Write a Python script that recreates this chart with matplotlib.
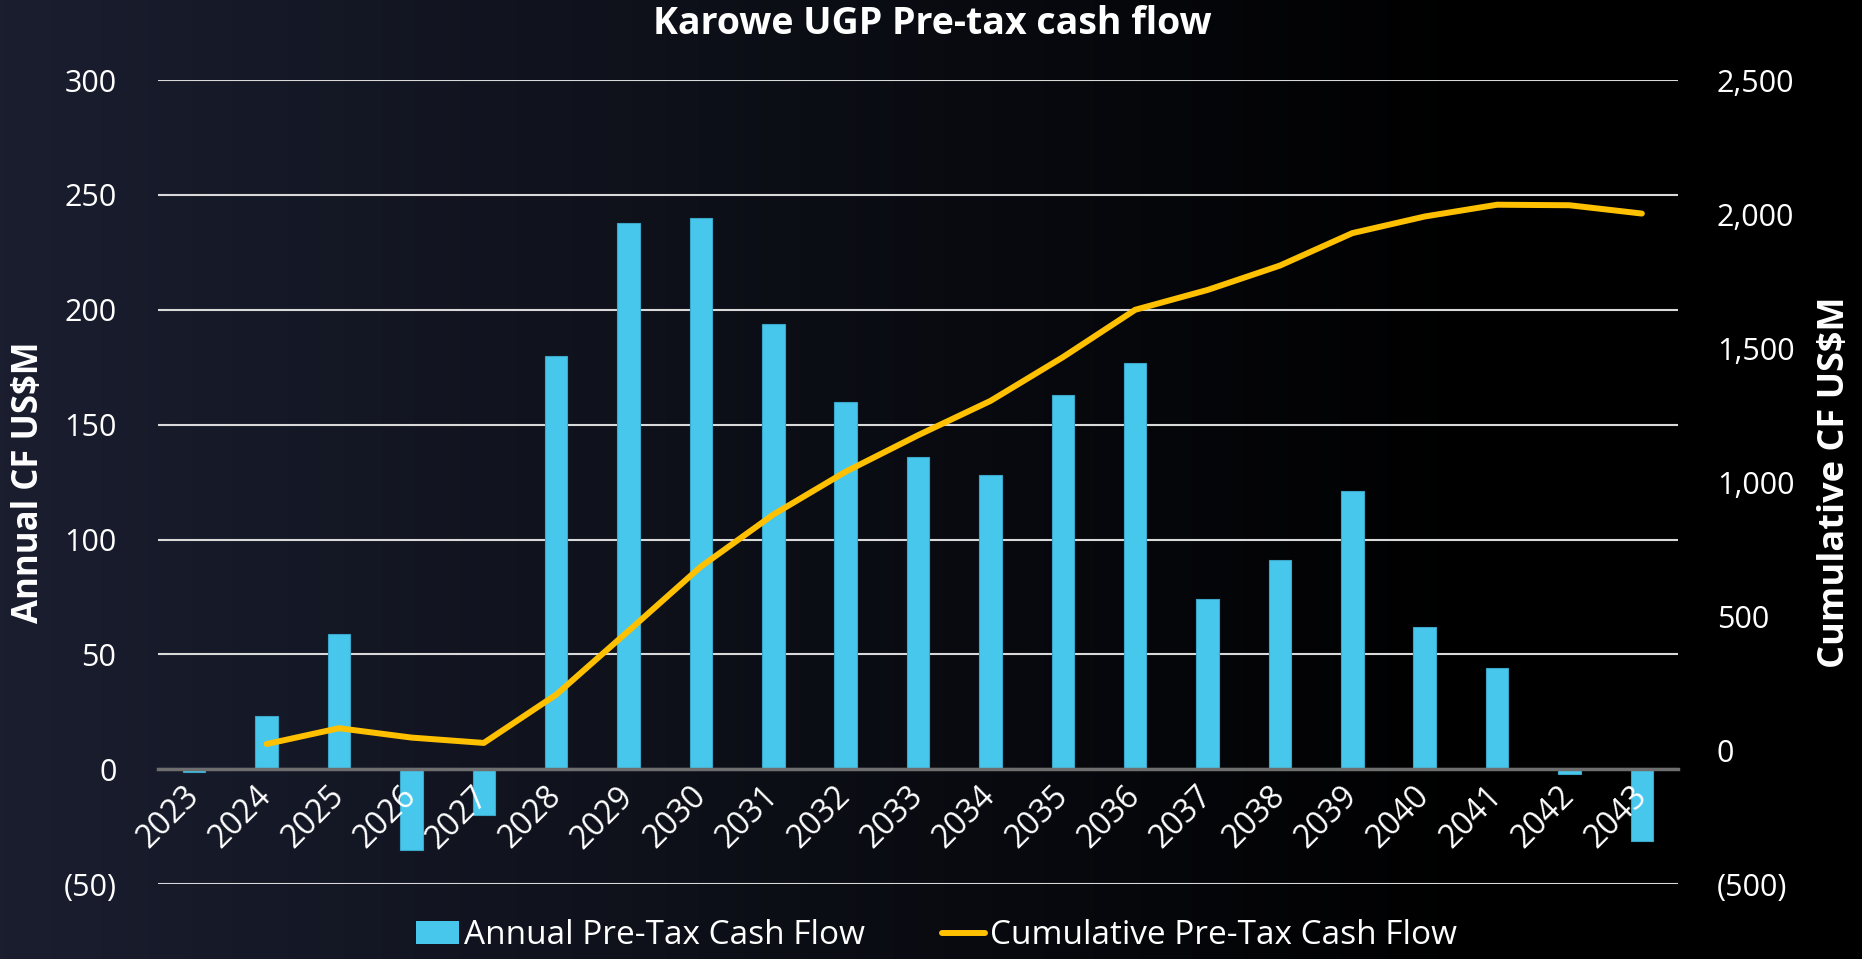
import numpy as np
import matplotlib
matplotlib.use("Agg")
import matplotlib.pyplot as plt
from matplotlib.ticker import FuncFormatter, MultipleLocator
from matplotlib.lines import Line2D
from matplotlib.patches import Patch

years = ["2023", "2024", "2025", "2026", "2027", "2028", "2029", "2030", "2031", "2032", "2033",
         "2034", "2035", "2036", "2037", "2038", "2039", "2040", "2041", "2042", "2043"]
annual_cf = [-1, 23, 59, -35, -20, 180, 238, 240, 194, 160, 136,
             128, 163, 177, 74, 91, 121, 62, 44, -2, -31]
cumulative_cf = [np.nan, 23, 82, 47, 27, 207, 445, 685, 879, 1039, 1175,
                 1303, 1466, 1643, 1717, 1808, 1929, 1991, 2035, 2033, 2002]

BAR_COLOR = "#48C7EC"
LINE_COLOR = "#FFC000"
FONT = "Open Sans"

plt.rcParams["font.family"] = [FONT, "DejaVu Sans"]


def paren_fmt(v, pos):
    if v < 0:
        return "({:,.0f})".format(-v)
    return "{:,.0f}".format(v)


fig = plt.figure(figsize=(18.62, 9.59), dpi=100)

# background gradient: dark navy on the left fading to black
bg = fig.add_axes([0, 0, 1, 1], zorder=-10)
xs = np.linspace(0, 1, 400)
t = np.clip(xs / 0.8, 0, 1)
left = np.array([26, 30, 47]) / 255.0
row = left[None, :] * (1 - t)[:, None]
grad = np.repeat(row[None, :, :], 10, axis=0)
bg.imshow(grad, aspect="auto", extent=[0, 1, 0, 1])
bg.axis("off")

ax = fig.add_axes([0.0849, 0.078, 0.8163, 0.8385])
ax.set_facecolor("none")
x = np.arange(len(years))

ax.bar(x, annual_cf, width=0.31, color=BAR_COLOR, edgecolor="#3aa6c8", linewidth=0.8, zorder=1)
ax.set_xlim(-0.5, len(years) - 0.5)
ax.set_ylim(-50, 300)
ax.yaxis.set_major_locator(MultipleLocator(50))
ax.yaxis.set_major_formatter(FuncFormatter(paren_fmt))
ax.grid(axis="y", color="#d9d9d9", linewidth=1.5, zorder=0)
ax.set_axisbelow(True)

for s in ["top", "right", "left"]:
    ax.spines[s].set_visible(False)
ax.spines["bottom"].set_position(("data", 0))
ax.spines["bottom"].set_color("#6e6e6e")
ax.spines["bottom"].set_linewidth(2.5)
ax.spines["bottom"].set_zorder(4)
ax.xaxis.set_zorder(6)

ax.set_xticks(x)
ax.set_xticklabels(years, rotation=45, ha="right", va="center", rotation_mode="anchor")
ax.tick_params(axis="x", length=0, pad=16, labelsize=23, labelcolor="white")
ax.tick_params(axis="y", length=0, pad=30, labelsize=22, labelcolor="white")

ax.set_ylabel("Annual CF US$M", color="white", fontsize=25, fontweight="bold", labelpad=12)

ax2 = ax.twinx()
ax2.plot(x, cumulative_cf, color=LINE_COLOR, linewidth=4.3, solid_capstyle="round",
         solid_joinstyle="round", zorder=5)
ax2.set_ylim(-500, 2500)
ax2.yaxis.set_major_locator(MultipleLocator(500))
ax2.yaxis.set_major_formatter(FuncFormatter(paren_fmt))
for s in ["top", "right", "left", "bottom"]:
    ax2.spines[s].set_visible(False)
ax2.tick_params(axis="y", length=0, pad=28, labelsize=22, labelcolor="white")
ax2.set_ylabel("Cumulative CF US$M", color="white", fontsize=26, fontweight="bold", labelpad=16)

fig.text(0.5005, 0.975, "Karowe UGP Pre-tax cash flow", color="white", fontsize=27,
         fontweight="bold", ha="center", va="center")

handles = [Patch(facecolor=BAR_COLOR, edgecolor="none"),
           Line2D([0], [0], color=LINE_COLOR, linewidth=4.3, solid_capstyle="round")]
leg = fig.legend(handles, ["Annual Pre-Tax Cash Flow", "Cumulative Pre-Tax Cash Flow"],
                 loc="center", bbox_to_anchor=(0.503, 0.024), ncol=2, frameon=False,
                 fontsize=24, labelcolor="white", handlelength=1.3, handletextpad=0.15,
                 columnspacing=2.3, borderpad=0.1)

fig.savefig("out.png", dpi=100, facecolor="black")
